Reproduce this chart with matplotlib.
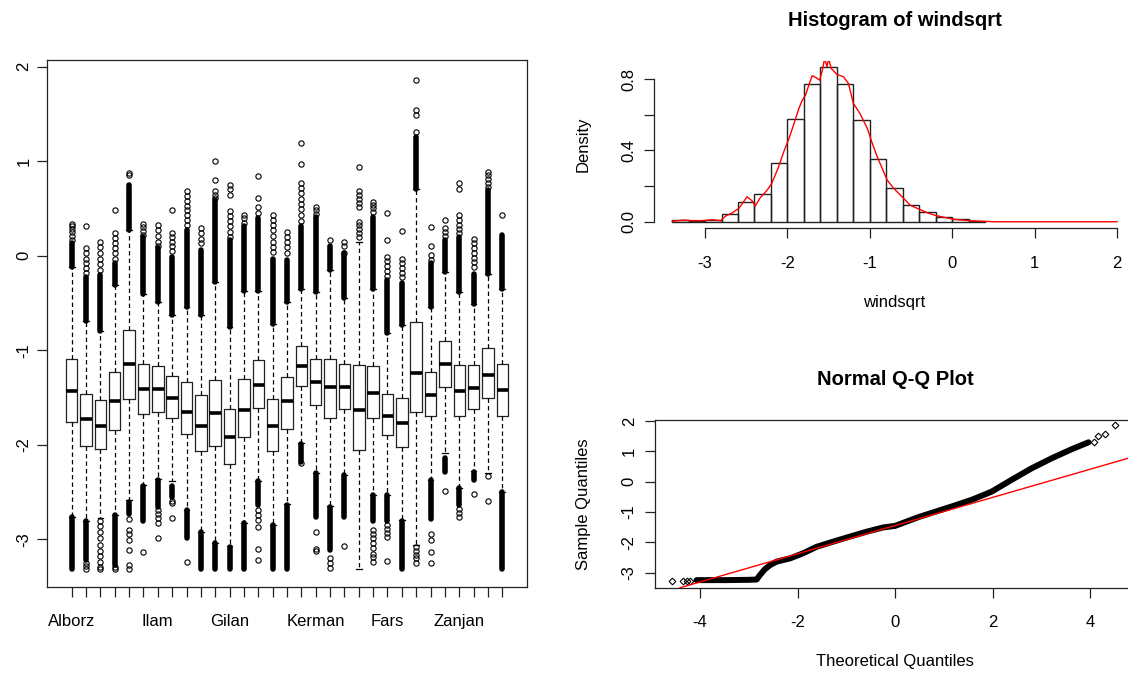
import numpy as np
import matplotlib.pyplot as plt

plt.rcParams['font.family'] = ['Liberation Sans', 'DejaVu Sans']
plt.rcParams['font.size'] = 12
plt.rcParams['axes.unicode_minus'] = False

# ---- boxplot por provincia (31 cajas) ----
labels = ['Alborz', '', '', '', '', '', 'Ilam', '', '', '', '', 'Gilan', '', '', '', '', '',
          'Kerman', '', '', '', '', 'Fars', '', '', '', '', 'Zanjan', '', '', '']

q3 = [-1.09, -1.46, -1.53, -1.23, -0.79, -1.14, -1.17, -1.27, -1.33, -1.47, -1.31, -1.62, -1.30, -1.10, -1.52, -1.28,
      -0.95, -1.09, -1.09, -1.15, -1.16, -1.17, -1.46, -1.50, -0.70, -1.23, -0.90, -1.16, -1.16, -0.98, -1.14]
med = [-1.43, -1.73, -1.80, -1.54, -1.15, -1.41, -1.41, -1.50, -1.65, -1.80, -1.66, -1.92, -1.63, -1.37, -1.80, -1.54,
       -1.17, -1.34, -1.39, -1.39, -1.63, -1.45, -1.70, -1.77, -1.24, -1.47, -1.15, -1.43, -1.40, -1.26, -1.42]
q1 = [-1.76, -2.01, -2.04, -1.84, -1.52, -1.67, -1.65, -1.72, -1.89, -2.07, -2.01, -2.20, -1.92, -1.61, -2.07, -1.83,
      -1.38, -1.58, -1.72, -1.62, -2.05, -1.72, -1.90, -2.02, -1.65, -1.70, -1.39, -1.70, -1.62, -1.50, -1.70]
whishi = [-0.12, -0.69, -0.80, -0.31, 0.27, -0.40, -0.49, -0.63, -0.54, -0.63, -0.28, -0.75, -0.37, -0.37, -0.72, -0.49,
          -0.35, -0.38, -0.15, -0.45, 0.15, -0.35, -0.82, -0.73, 0.71, -0.54, -0.17, -0.38, -0.51, -0.19, -0.35]
whislo = [-2.76, -2.80, -2.77, -2.74, -2.58, -2.42, -2.36, -2.38, -2.69, -2.92, -3.04, -3.07, -2.83, -2.38, -2.85, -2.63,
          -1.98, -2.30, -2.65, -2.32, -3.31, -2.53, -2.53, -2.79, -3.06, -2.37, -2.09, -2.46, -2.28, -2.30, -2.50]

# outliers muy densos (se ven como barra negra): tope del bloque superior, y bloque inferior
up_dense_hi = [0.13, -0.22, -0.20, -0.08, 0.75, 0.20, 0.08, -0.01, 0.27, 0.06, 0.59, 0.17, 0.31, 0.40, -0.03, -0.05,
               0.31, 0.41, 0.10, 0.03, np.nan, 0.41, -0.26, -0.29, 1.26, -0.08, 0.17, 0.20, -0.19, 0.70, 0.22]
lo_dense_top = [-2.76, -2.81, np.nan, -2.74, -2.60, -2.43, -2.37, -2.43, -2.69, -2.92, -3.04, -3.08, -2.83, -2.38, -2.85, -2.64,
                -1.99, -2.30, -2.66, -2.32, np.nan, -2.53, -2.53, -2.80, np.nan, -2.37, -2.14, -2.46, -2.29, np.nan, -2.50]
lo_dense_bot = [-3.31, -3.22, np.nan, -3.27, -2.73, -2.80, -2.66, -2.55, -2.99, -3.31, -3.31, -3.31, -3.31, -2.64, -3.31, -3.31,
                -2.18, -2.76, -3.11, -2.76, np.nan, -2.80, -2.80, -3.31, np.nan, -2.78, -2.29, -2.64, -2.37, np.nan, -3.31]

# outliers sueltos
sparse = [
    [0.34, 0.31, 0.28, 0.25, 0.21, 0.17],
    [0.31, 0.08, 0.03, -0.03, -0.08, -0.13, -0.18, -3.25, -3.28, -3.31],
    [0.15, 0.09, 0.03, -0.03, -0.09, -0.15, -2.80, -2.86, -2.92, -2.99, -3.06, -3.12, -3.18, -3.24, -3.29, -3.31],
    [0.48, 0.24, 0.19, 0.14, 0.08, 0.03, -0.03, -3.29, -3.31],
    [0.87, 0.85, -2.78, -2.90, -2.94, -3.01, -3.11, -3.27, -3.31],
    [0.34, 0.30, 0.26, 0.22, -3.13],
    [0.33, 0.27, 0.21, 0.15, 0.10, -2.69, -2.73, -2.77, -2.83, -2.99],
    [0.48, 0.24, 0.20, 0.15, 0.10, 0.05, -2.59, -2.62, -2.77],
    [0.68, 0.63, 0.58, 0.53, 0.48, 0.43, 0.38, 0.33, -3.24],
    [0.29, 0.24, 0.18, 0.13],
    [1.00, 0.80, 0.68, 0.64, 0.61],
    [0.75, 0.71, 0.64, 0.47, 0.42, 0.37, 0.31, 0.25, 0.20],
    [0.43, 0.40, 0.35],
    [0.84, 0.61, 0.52, 0.45, -2.69, -2.74, -2.79, -2.87, -3.10, -3.22],
    [0.43, 0.38, 0.33, 0.27, 0.21, 0.15, 0.09, 0.04],
    [0.25, 0.20, 0.15, 0.09, 0.03],
    [1.19, 0.97, 0.77, 0.72, 0.66, 0.60, 0.55, 0.49, 0.43, 0.37, -2.19],
    [0.52, 0.48, 0.44, -2.92, -3.10, -3.12],
    [0.17, -3.20, -3.25, -3.30],
    [0.15, 0.10, 0.03, -3.07],
    [0.94, 0.68, 0.64, 0.60, 0.56, 0.52, 0.36, 0.32, 0.28, 0.24, 0.20],
    [0.57, 0.54, 0.50, 0.46, -2.90, -2.94, -2.98, -3.04, -3.09, -3.15, -3.19, -3.24],
    [0.45, 0.17, -0.01, -0.06, -0.11, -0.16, -0.21, -2.85, -2.89, -2.93, -2.97, -3.23],
    [0.26, -0.03, -0.08, -0.13, -0.18, -0.23],
    [1.86, 1.54, 1.49, 1.31, -3.08, -3.12, -3.16, -3.20, -3.25],
    [0.30, 0.10, 0.01, -0.04, -2.94, -3.01, -3.13, -3.25],
    [0.38, 0.29, 0.25, 0.21, -2.49],
    [0.77, 0.71, 0.43, 0.38, 0.33, 0.28, 0.24, -2.68, -2.72, -2.76],
    [0.18, 0.13, 0.08, 0.03, -0.02, -0.07, -0.12, -2.52],
    [0.89, 0.85, 0.81, 0.77, 0.73, -2.33, -2.59],
    [0.43],
]

# ---- histograma de windsqrt ----
hist_breaks = [-3.4, -3.2, -3.0, -2.8, -2.6, -2.4, -2.2, -2.0, -1.8, -1.6, -1.4, -1.2, -1.0,
               -0.8, -0.6, -0.4, -0.2, 0.0, 0.2, 0.4]
hist_dens = [0.008, 0.004, 0.010, 0.045, 0.108, 0.153, 0.327, 0.578, 0.775, 0.869, 0.775, 0.569,
             0.351, 0.191, 0.096, 0.052, 0.028, 0.013, 0.007]

dens_x = [-3.40, -3.26, -3.18, -3.06, -2.91, -2.81, -2.75, -2.67, -2.59, -2.49, -2.43, -2.39, -2.33, -2.25,
          -2.19, -2.11, -2.04, -1.98, -1.92, -1.86, -1.82, -1.78, -1.74, -1.70, -1.65, -1.61, -1.58, -1.55,
          -1.52, -1.50, -1.47, -1.40, -1.32, -1.26, -1.20, -1.12, -1.03, -0.97, -0.91, -0.85, -0.79, -0.71,
          -0.63, -0.55, -0.51, -0.40, -0.30, -0.20, -0.10, 0.00, 0.20, 0.40, 0.50, 2.00]
dens_y = [0.003, 0.009, 0.007, 0.006, 0.011, 0.006, 0.032, 0.050, 0.075, 0.140, 0.118, 0.088, 0.135, 0.175,
          0.215, 0.305, 0.398, 0.468, 0.551, 0.636, 0.682, 0.710, 0.766, 0.819, 0.807, 0.794, 0.841, 0.915,
          0.869, 0.915, 0.860, 0.826, 0.813, 0.776, 0.664, 0.607, 0.523, 0.439, 0.364, 0.299, 0.234, 0.187,
          0.150, 0.112, 0.093, 0.070, 0.050, 0.035, 0.025, 0.015, 0.006, 0.002, 0.000, 0.000]

# ---- Q-Q normal ----
qq_x = [-4.07, -3.50, -3.00, -2.84, -2.77, -2.67, -2.56, -2.43, -2.15, -1.88, -1.61, -1.27, -0.92, -0.58,
        -0.24, 0.00, 0.48, 1.16, 1.57, 1.98, 2.39, 2.80, 3.21, 3.62, 3.97]
qq_y = [-3.25, -3.25, -3.24, -3.23, -3.08, -2.89, -2.75, -2.64, -2.53, -2.36, -2.15, -1.98, -1.81, -1.65,
        -1.51, -1.46, -1.17, -0.82, -0.60, -0.33, 0.06, 0.44, 0.77, 1.07, 1.30]
qq_out_x = [-4.58, -4.34, -4.27, -4.20, 4.09, 4.17, 4.31, 4.51]
qq_out_y = [-3.29, -3.29, -3.29, -3.29, 1.32, 1.51, 1.56, 1.87]
qq_intercept = -1.45
qq_slope = 0.465

fig = plt.figure(figsize=(11.28, 6.73), dpi=100)
W, H = 1128.0, 673.0


def px_axes(x0, y0, x1, y1):
    return fig.add_axes([x0 / W, 1 - y1 / H, (x1 - x0) / W, (y1 - y0) / H])


ax1 = px_axes(46.7, 60, 527.3, 586.7)
ax2 = px_axes(654.3, 60.5, 1134.8, 228)
ax3 = px_axes(654.7, 420, 1135.4, 587.7)

for ax in (ax1, ax2, ax3):
    for s in ax.spines.values():
        s.set_linewidth(0.9)
        s.set_color('#222222')
    ax.tick_params(direction='out', length=7, width=0.9, color='#222222', labelsize=12)

# boxplot
pos = np.arange(1, len(med) + 1)
stats = []
for i in range(len(med)):
    stats.append(dict(med=med[i], q1=q1[i], q3=q3[i], whislo=whislo[i], whishi=whishi[i],
                      fliers=np.array(sparse[i])))
ax1.bxp(stats, positions=pos, widths=0.8, capwidths=0.4, manage_ticks=False,
        boxprops=dict(color='#222222', lw=0.9),
        medianprops=dict(color='black', lw=2.6, solid_capstyle='butt'),
        whiskerprops=dict(color='black', lw=0.9, linestyle=(0, (3.5, 2.5))),
        capprops=dict(color='black', lw=0.9),
        flierprops=dict(marker='o', ms=3.8, mfc='none', mec='black', mew=0.8))
up_ok = ~np.isnan(up_dense_hi)
ax1.vlines(pos[up_ok], np.array(whishi)[up_ok], np.array(up_dense_hi)[up_ok],
           color='black', lw=4, capstyle='round', zorder=3)
lo_ok = ~np.isnan(lo_dense_top)
ax1.vlines(pos[lo_ok], np.array(lo_dense_bot)[lo_ok], np.array(lo_dense_top)[lo_ok],
           color='black', lw=4, capstyle='round', zorder=3)
ax1.set_xlim(-0.74, 32.74)
ax1.set_ylim(-3.50, 2.07)
ax1.set_xticks(pos)
ax1.set_xticklabels(labels)
ax1.set_yticks([-3, -2, -1, 0, 1, 2])
ax1.tick_params(axis='x', pad=12.5)
ax1.tick_params(axis='y', labelrotation=90, pad=4)
for t in ax1.get_yticklabels():
    t.set_va('center')

# histograma
ax2.bar(hist_breaks[:-1], hist_dens, width=np.diff(hist_breaks), align='edge',
        fill=False, edgecolor='#222222', lw=1)
ax2.plot(dens_x, dens_y, color='red', lw=1)
ax2.set_xlim(-3.616, 2.216)
ax2.set_ylim(-0.035, 0.904)
ax2.spines['top'].set_visible(False)
ax2.spines['right'].set_visible(False)
ax2.spines['left'].set_bounds(0, 0.8)
ax2.spines['bottom'].set_bounds(-3, 2)
ax2.set_xticks([-3, -2, -1, 0, 1, 2])
ax2.set_yticks([0, 0.2, 0.4, 0.6, 0.8])
ax2.set_yticklabels(['0.0', '', '0.4', '', '0.8'])
ax2.tick_params(axis='x', pad=13)
ax2.tick_params(axis='y', labelrotation=90, pad=6)
for t in ax2.get_yticklabels():
    t.set_va('center')
ax2.set_xlabel('windsqrt', fontsize=12)
ax2.xaxis.set_label_coords(0.5, -75 / 167.5)
ax2.xaxis.label.set_va('center')
ax2.set_ylabel('Density', fontsize=12)
ax2.yaxis.set_label_coords(-70.8 / 480.5, 0.5)
ax2.yaxis.label.set_va('center')
ax2.text(0.5, 1 + 40.5 / 167.5, 'Histogram of windsqrt', transform=ax2.transAxes,
         ha='center', va='center', fontsize=14.5, fontweight='bold')

# Q-Q
ax3.plot(qq_x, qq_y, color='black', lw=4.3, solid_capstyle='round', solid_joinstyle='round')
ax3.plot(qq_out_x, qq_out_y, 'D', ms=3.4, mfc='none', mec='black', mew=0.8)
ax3.axline((0, qq_intercept), slope=qq_slope, color='red', lw=1)
ax3.set_xlim(-4.93, 4.93)
ax3.set_ylim(-3.50, 2.036)
ax3.set_xticks([-4, -2, 0, 2, 4])
ax3.set_yticks([-3, -2, -1, 0, 1, 2])
ax3.tick_params(axis='x', pad=13)
ax3.tick_params(axis='y', labelrotation=90, pad=6)
for t in ax3.get_yticklabels():
    t.set_va('center')
ax3.set_xlabel('Theoretical Quantiles', fontsize=12)
ax3.xaxis.set_label_coords(0.5, -74 / 167.7)
ax3.xaxis.label.set_va('center')
ax3.set_ylabel('Sample Quantiles', fontsize=12)
ax3.yaxis.set_label_coords(-70.8 / 480.7, 0.5)
ax3.yaxis.label.set_va('center')
ax3.text(0.5, 1 + 40.7 / 167.7, 'Normal Q-Q Plot', transform=ax3.transAxes,
         ha='center', va='center', fontsize=14.5, fontweight='bold')

fig.savefig('out.png', dpi=100)
